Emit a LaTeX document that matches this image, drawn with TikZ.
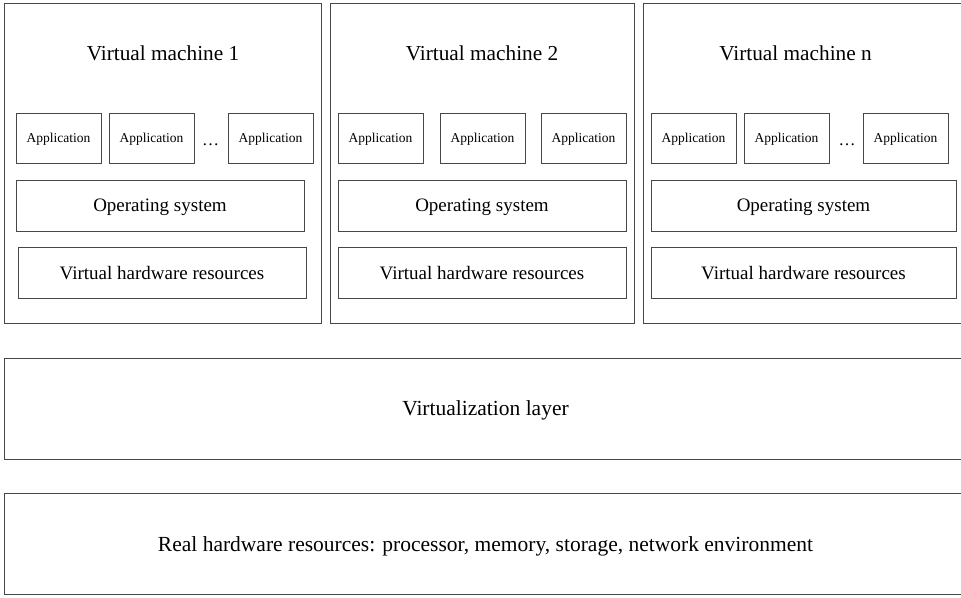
\documentclass[tikz,border=0pt]{standalone}
\usepackage{fontspec}
\setmainfont{Liberation Serif}
\usetikzlibrary{positioning}

\begin{document}
\begin{tikzpicture}[x=1pt, y=-1pt, on grid, line width=1pt,
  vm/.style={draw=black!72, inner sep=0pt, minimum height=320.5pt},
  vmtitle/.style={font=\fontsize{21.3}{24}\selectfont},
  app/.style={draw=black!72, inner sep=0pt, text depth=0pt, minimum width=85pt, minimum height=50pt, font=\fontsize{13.5}{15}\selectfont},
  layer/.style={draw=black!72, inner sep=0pt, text depth=0pt, minimum height=51pt, font=\fontsize{19}{22}\selectfont},
  host/.style={draw=black!72, inner sep=0pt, text depth=0pt, minimum width=963pt, minimum height=101pt, font=\fontsize{21.5}{24}\selectfont}]
  \useasboundingbox (0,0) rectangle (961,597);
  % virtual machine 1
  \node[vm, minimum width=317pt] (vm1) at (162.5,163.25) {};
  \node[vmtitle] (vm1title) at (163,53) {Virtual machine 1};
  \node[app] (app11) at (58.5,138) {Application};
  \node[app] [right=93pt of app11] (app12) {Application};
  \node[app] [right=119pt of app12] (app13) {Application};
  \node (dots1) at (210.5,145) {\fontsize{17}{20}\selectfont\dots};
  \node[layer, minimum width=288pt] (os1) at (160,205.5) {Operating system};
  \node[layer, minimum width=288pt] (vhw1) at (162,272.5) {Virtual hardware resources};
  % virtual machine 2
  \node[vm, minimum width=304.5pt] (vm2) at (482.25,163.25) {};
  \node[vmtitle] (vm2title) at (482,53) {Virtual machine 2};
  \node[app] (app21) at (380.5,138) {Application};
  \node[app] [right=102pt of app21] (app22) {Application};
  \node[app] [right=101pt of app22] (app23) {Application};
  \node[layer, minimum width=288pt] (os2) at (482,205.5) {Operating system};
  \node[layer, minimum width=288pt] (vhw2) at (482,272.5) {Virtual hardware resources};
  % virtual machine n
  \node[vm, minimum width=322pt] (vmn) at (804,163.25) {};
  \node[vmtitle] (vmntitle) at (795.5,53) {Virtual machine n};
  \node[app] (appn1) at (693.5,138) {Application};
  \node[app] [right=93pt of appn1] (appn2) {Application};
  \node[app] [right=119pt of appn2] (appn3) {Application};
  \node (dotsn) at (847,145) {\fontsize{17}{20}\selectfont\dots};
  \node[layer, minimum width=305pt] (osn) at (803.5,205.5) {Operating system};
  \node[layer, minimum width=305pt] (vhwn) at (803.5,272.5) {Virtual hardware resources};
  % shared layers
  \node[host] (virt) at (485.5,408.5) {Virtualization layer};
  \node[host] (real) at (485.5,544) {Real hardware resources: processor, memory, storage, network environment};
\end{tikzpicture}
\end{document}
